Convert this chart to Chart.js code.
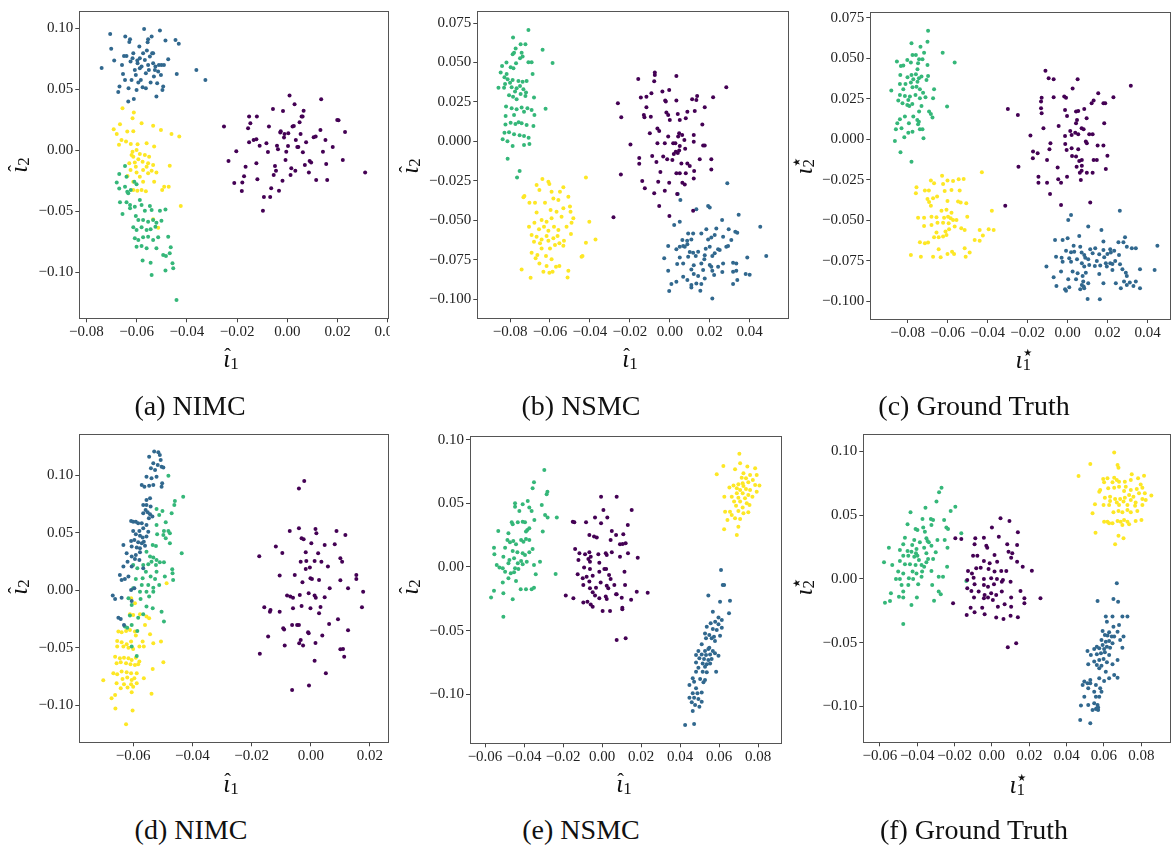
<!DOCTYPE html>
<html>
<head>
<meta charset="utf-8">
<script src="https://cdn.jsdelivr.net/npm/chart.js@4.4.1/dist/chart.umd.min.js"></script>
<style>
  body { margin: 0; background: #fff; width: 1172px; height: 846px; position: relative; overflow: hidden; }
  canvas { position: absolute; }
  .cap { position: absolute; font-family: 'Liberation Serif', serif; font-size: 28px; line-height: 1; white-space: nowrap; transform: translateX(-50%); color: #111; }
  .ax { position: absolute; font-family: 'Liberation Serif', serif; font-style: italic; font-size: 25px; line-height: 1; white-space: nowrap; color: #111; transform: translate(-50%, -50%); }
  .ax.y { transform: translate(-50%, -50%) rotate(-90deg); }
  .io { position: relative; display: inline-block; }
  .hat { position: absolute; left: 1px; top: 0px; font-style: normal; font-size: 20px; }
  .sb { font-style: normal; font-size: 17px; position: relative; top: 2px; }
  .ss { display: inline-block; position: relative; width: 10px; height: 1px; }
  .ss .up { position: absolute; left: -1px; bottom: 6px; font-style: normal; font-size: 20px; line-height: 1; font-family: 'DejaVu Sans', sans-serif; }
  .ss .dn { position: absolute; left: 0; bottom: -5px; font-style: normal; font-size: 17px; line-height: 1; }
</style>
</head>
<body>
<canvas id="pa"></canvas>
<canvas id="pb"></canvas>
<canvas id="pc"></canvas>
<canvas id="pd"></canvas>
<canvas id="pe"></canvas>
<canvas id="pf"></canvas>

<div class="ax" style="left:231px;top:358px"><span class="io">ι<span class="hat">ˆ</span></span><span class="sb">1</span></div>
<div class="ax y" style="left:18px;top:165px"><span class="io">ι<span class="hat">ˆ</span></span><span class="sb">2</span></div>
<div class="ax" style="left:630px;top:358px"><span class="io">ι<span class="hat">ˆ</span></span><span class="sb">1</span></div>
<div class="ax y" style="left:409px;top:166px"><span class="io">ι<span class="hat">ˆ</span></span><span class="sb">2</span></div>
<div class="ax" style="left:1024px;top:359px"><span class="io">ι</span><span class="ss"><span class="up">⋆</span><span class="dn">1</span></span></div>
<div class="ax y" style="left:803px;top:166px"><span class="io">ι</span><span class="ss"><span class="up">⋆</span><span class="dn">2</span></span></div>

<div class="ax" style="left:231px;top:783px"><span class="io">ι<span class="hat">ˆ</span></span><span class="sb">1</span></div>
<div class="ax y" style="left:18px;top:587px"><span class="io">ι<span class="hat">ˆ</span></span><span class="sb">2</span></div>
<div class="ax" style="left:624px;top:783px"><span class="io">ι<span class="hat">ˆ</span></span><span class="sb">1</span></div>
<div class="ax y" style="left:409px;top:587px"><span class="io">ι<span class="hat">ˆ</span></span><span class="sb">2</span></div>
<div class="ax" style="left:1018px;top:784px"><span class="io">ι</span><span class="ss"><span class="up">⋆</span><span class="dn">1</span></span></div>
<div class="ax y" style="left:803px;top:587px"><span class="io">ι</span><span class="ss"><span class="up">⋆</span><span class="dn">2</span></span></div>

<div class="cap" style="left:190px;top:392px">(a) NIMC</div>
<div class="cap" style="left:581px;top:392px">(b) NSMC</div>
<div class="cap" style="left:974px;top:392px">(c) Ground Truth</div>
<div class="cap" style="left:191px;top:816px">(d) NIMC</div>
<div class="cap" style="left:581px;top:816px">(e) NSMC</div>
<div class="cap" style="left:974px;top:816px">(f) Ground Truth</div>

<script>
// cluster colours (viridis, 4 classes)
var viridis = ['#440154', '#31688e', '#35b779', '#fde725'];

// tick values
var ticksX_a = [-0.08, -0.06, -0.04, -0.02, 0.00, 0.02, 0.04];
var ticksY_a = [-0.10, -0.05, 0.00, 0.05, 0.10];
var ticksX_b = [-0.08, -0.06, -0.04, -0.02, 0.00, 0.02, 0.04];
var ticksY_b = [-0.100, -0.075, -0.050, -0.025, 0.000, 0.025, 0.050, 0.075];
var ticksX_d = [-0.06, -0.04, -0.02, 0.00, 0.02];
var ticksY_d = [-0.10, -0.05, 0.00, 0.05, 0.10];
var ticksX_e = [-0.06, -0.04, -0.02, 0.00, 0.02, 0.04, 0.06, 0.08];
var ticksY_e = [-0.10, -0.05, 0.00, 0.05, 0.10];

// (a) NIMC
var aPurple = [[-0.0252,0.0194],[-0.0234,-0.0087],[-0.0211,-0.0268],[-0.0203,-0.0008],[-0.0181,-0.0333],[-0.0179,-0.0265],[-0.0166,-0.0134],[-0.0156,0.0180],[-0.0152,0.0066],[-0.0147,0.0221],[-0.0152,0.0276],[-0.0134,0.0085],[-0.0123,-0.0107],[-0.0121,0.0276],[-0.0119,-0.0238],[-0.0123,0.0090],[-0.0110,0.0038],[-0.0093,-0.0383],[-0.0083,0.0057],[-0.0077,-0.0014],[-0.0073,0.0194],[-0.0068,-0.0383],[-0.0064,-0.0311],[-0.0057,0.0339],[-0.0054,-0.0202],[-0.0049,-0.0128],[-0.0045,-0.0167],[-0.0041,0.0038],[-0.0037,0.0008],[-0.0033,-0.0331],[-0.0028,0.0145],[-0.0026,0.0156],[-0.0019,-0.0249],[-0.0017,0.0322],[-0.0013,0.0104],[-0.0011,0.0134],[-0.0007,-0.0079],[-0.0004,-0.0011],[0.0003,0.0036],[0.0004,0.0139],[0.0009,0.0448],[0.0013,-0.0202],[0.0016,-0.0148],[0.0021,0.0194],[0.0026,0.0199],[0.0029,0.0377],[0.0032,-0.0167],[0.0034,0.0085],[0.0040,0.0027],[0.0044,0.0027],[0.0049,0.0230],[0.0053,0.0134],[0.0057,0.0276],[0.0061,0.0276],[0.0065,0.0325],[0.0062,-0.0016],[0.0070,-0.0120],[0.0075,0.0066],[0.0086,-0.0183],[0.0089,-0.0087],[0.0095,-0.0101],[0.0105,0.0107],[0.0113,0.0112],[0.0115,-0.0243],[0.0132,0.0167],[0.0135,0.0418],[0.0142,-0.0011],[0.0152,0.0085],[0.0155,-0.0112],[0.0159,-0.0243],[0.0181,0.0027],[0.0199,0.0249],[0.0204,0.0246],[0.0221,-0.0079],[0.0230,0.0150],[0.0310,-0.0183],[-0.0097,-0.0495],[-0.0172,-0.0213]];
var aBlue = [[-0.0739,0.0675],[-0.0705,0.0954],[-0.0701,0.0833],[-0.0689,0.0735],[-0.0673,0.0478],[-0.0668,0.0522],[-0.0658,0.0699],[-0.0654,0.0626],[-0.0650,0.0773],[-0.0645,0.0932],[-0.0640,0.0773],[-0.0633,0.0399],[-0.0632,0.0508],[-0.0629,0.0888],[-0.0626,0.0910],[-0.0624,0.0727],[-0.0613,0.0795],[-0.0611,0.0421],[-0.0607,0.0658],[-0.0600,0.0495],[-0.0596,0.0713],[-0.0593,0.0555],[-0.0589,0.0850],[-0.0587,0.0754],[-0.0583,0.0577],[-0.0580,0.0686],[-0.0576,0.0516],[-0.0574,0.0795],[-0.0570,0.0995],[-0.0567,0.0740],[-0.0563,0.0631],[-0.0559,0.0817],[-0.0556,0.0885],[-0.0554,0.0910],[-0.0551,0.0658],[-0.0547,0.0768],[-0.0544,0.0555],[-0.0540,0.0932],[-0.0538,0.0795],[-0.0534,0.0713],[-0.0531,0.0604],[-0.0527,0.0658],[-0.0525,0.0686],[-0.0521,0.0440],[-0.0518,0.0549],[-0.0514,0.0645],[-0.0511,0.0699],[-0.0507,0.0981],[-0.0503,0.0617],[-0.0501,0.0699],[-0.0497,0.0495],[-0.0494,0.0522],[-0.0491,0.0699],[-0.0485,0.0899],[-0.0474,0.0746],[-0.0445,0.0904],[-0.0440,0.0626],[-0.0432,0.0874],[-0.0362,0.0658],[-0.0326,0.0577],[-0.0646,0.0577],[-0.0620,0.0577],[-0.0603,0.0617],[-0.0563,0.0508],[-0.0587,0.0672],[-0.0616,0.0754],[-0.0597,0.0735],[-0.0554,0.0699],[-0.0534,0.0795]];
var aGreen = [[-0.0646,-0.0128],[-0.0669,-0.0194],[-0.0679,-0.0265],[-0.0640,-0.0216],[-0.0669,-0.0314],[-0.0637,-0.0339],[-0.0633,-0.0352],[-0.0609,-0.0257],[-0.0600,-0.0279],[-0.0623,-0.0325],[-0.0666,-0.0426],[-0.0640,-0.0426],[-0.0656,-0.0522],[-0.0626,-0.0475],[-0.0607,-0.0462],[-0.0587,-0.0407],[-0.0580,-0.0448],[-0.0567,-0.0495],[-0.0547,-0.0456],[-0.0540,-0.0489],[-0.0507,-0.0495],[-0.0485,-0.0486],[-0.0603,-0.0538],[-0.0593,-0.0571],[-0.0574,-0.0571],[-0.0554,-0.0585],[-0.0534,-0.0571],[-0.0521,-0.0593],[-0.0501,-0.0577],[-0.0613,-0.0631],[-0.0600,-0.0653],[-0.0580,-0.0631],[-0.0560,-0.0653],[-0.0544,-0.0648],[-0.0525,-0.0626],[-0.0607,-0.0721],[-0.0593,-0.0735],[-0.0574,-0.0713],[-0.0554,-0.0708],[-0.0534,-0.0735],[-0.0514,-0.0713],[-0.0474,-0.0708],[-0.0600,-0.0790],[-0.0580,-0.0784],[-0.0560,-0.0803],[-0.0521,-0.0803],[-0.0494,-0.0858],[-0.0483,-0.0866],[-0.0464,-0.0795],[-0.0468,-0.0844],[-0.0576,-0.0904],[-0.0544,-0.0921],[-0.0485,-0.0986],[-0.0540,-0.1022],[-0.0457,-0.0926],[-0.0454,-0.0967],[-0.0441,-0.1227],[-0.0626,-0.0448],[-0.0646,-0.0298]];
var aYellow = [[-0.0656,0.0344],[-0.0611,0.0309],[-0.0616,0.0262],[-0.0691,0.0172],[-0.0666,0.0213],[-0.0679,0.0134],[-0.0637,0.0153],[-0.0613,0.0156],[-0.0580,0.0221],[-0.0534,0.0202],[-0.0503,0.0167],[-0.0461,0.0134],[-0.0430,0.0112],[-0.0670,0.0046],[-0.0642,0.0071],[-0.0623,0.0052],[-0.0596,0.0049],[-0.0560,0.0057],[-0.0530,0.0030],[-0.0600,0.0003],[-0.0616,-0.0011],[-0.0587,-0.0030],[-0.0567,-0.0038],[-0.0613,-0.0052],[-0.0593,-0.0074],[-0.0550,-0.0052],[-0.0629,-0.0107],[-0.0607,-0.0101],[-0.0576,-0.0093],[-0.0554,-0.0107],[-0.0534,-0.0120],[-0.0468,-0.0126],[-0.0624,-0.0161],[-0.0600,-0.0183],[-0.0574,-0.0161],[-0.0540,-0.0167],[-0.0636,-0.0210],[-0.0587,-0.0216],[-0.0554,-0.0189],[-0.0521,-0.0183],[-0.0613,-0.0257],[-0.0574,-0.0257],[-0.0530,-0.0257],[-0.0490,-0.0298],[-0.0472,-0.0298],[-0.0613,-0.0325],[-0.0597,-0.0331],[-0.0580,-0.0325],[-0.0563,-0.0336],[-0.0498,-0.0325],[-0.0424,-0.0456],[-0.0534,-0.0566],[-0.0514,-0.0634],[-0.0660,0.0085],[-0.0620,-0.0038],[-0.0560,-0.0134],[-0.0603,-0.0134]];

// (b) NSMC
var bPurple = [[-0.0075,0.0436],[-0.0075,0.0421],[0.0033,0.0414],[-0.0158,0.0395],[-0.0078,0.0381],[0.0283,0.0342],[-0.0037,0.0315],[-0.0003,0.0326],[-0.0092,0.0304],[-0.0145,0.0277],[-0.0117,0.0283],[0.0137,0.0288],[0.0217,0.0279],[-0.0260,0.0241],[-0.0023,0.0258],[-0.0020,0.0252],[0.0033,0.0258],[0.0112,0.0266],[0.0133,0.0262],[-0.0117,0.0216],[0.0175,0.0216],[-0.0243,0.0152],[-0.0130,0.0167],[-0.0095,0.0156],[-0.0017,0.0182],[-0.0008,0.0167],[0.0040,0.0173],[0.0088,0.0188],[0.0125,0.0192],[0.0000,0.0135],[0.0050,0.0135],[-0.0127,0.0152],[0.0080,0.0146],[0.0163,0.0106],[-0.0062,0.0082],[-0.0053,0.0066],[-0.0100,0.0051],[-0.0008,0.0030],[0.0047,0.0051],[0.0062,0.0040],[0.0120,0.0040],[0.0042,0.0030],[-0.0197,-0.0021],[-0.0062,-0.0013],[-0.0025,-0.0013],[0.0017,-0.0013],[0.0028,-0.0013],[0.0050,-0.0030],[0.0073,0.0008],[0.0120,-0.0002],[0.0167,-0.0027],[0.0175,-0.0027],[0.0030,-0.0066],[0.0040,-0.0074],[0.0020,-0.0080],[0.0047,-0.0059],[0.0077,-0.0047],[-0.0088,-0.0093],[-0.0153,-0.0106],[-0.0033,-0.0097],[-0.0013,-0.0114],[0.0013,-0.0118],[-0.0067,-0.0131],[-0.0153,-0.0142],[0.0058,-0.0140],[0.0088,-0.0140],[0.0100,-0.0156],[0.0150,-0.0114],[0.0208,-0.0114],[-0.0245,-0.0211],[-0.0047,-0.0195],[0.0033,-0.0203],[0.0050,-0.0203],[0.0080,-0.0203],[0.0122,-0.0188],[0.0208,-0.0178],[-0.0138,-0.0252],[-0.0058,-0.0256],[-0.0003,-0.0262],[0.0063,-0.0262],[0.0075,-0.0273],[0.0120,-0.0235],[-0.0125,-0.0298],[-0.0025,-0.0313],[-0.0078,-0.0330],[0.0037,-0.0334],[-0.0053,-0.0410],[0.0117,-0.0440],[-0.0002,-0.0474],[-0.0282,-0.0482]];
var bBlue = [[0.0288,-0.0266],[0.0040,-0.0334],[0.0053,-0.0372],[0.0133,-0.0431],[0.0192,-0.0410],[0.0200,-0.0419],[0.0345,-0.0465],[0.0262,-0.0499],[0.0050,-0.0510],[0.0022,-0.0531],[0.0183,-0.0558],[0.0233,-0.0552],[0.0295,-0.0558],[0.0328,-0.0573],[0.0338,-0.0579],[0.0092,-0.0584],[0.0117,-0.0584],[0.0158,-0.0584],[0.0108,-0.0622],[0.0063,-0.0626],[0.0087,-0.0630],[0.0192,-0.0622],[0.0208,-0.0609],[0.0225,-0.0594],[0.0267,-0.0605],[0.0308,-0.0626],[0.0453,-0.0541],[-0.0008,-0.0664],[0.0033,-0.0685],[0.0050,-0.0668],[0.0067,-0.0664],[0.0075,-0.0668],[0.0088,-0.0653],[0.0180,-0.0681],[0.0200,-0.0668],[0.0242,-0.0685],[0.0283,-0.0668],[0.0292,-0.0664],[0.0100,-0.0702],[0.0117,-0.0706],[0.0142,-0.0700],[0.0175,-0.0723],[0.0225,-0.0710],[0.0250,-0.0689],[0.0050,-0.0736],[0.0092,-0.0732],[0.0130,-0.0727],[0.0173,-0.0748],[0.0213,-0.0727],[0.0483,-0.0727],[-0.0028,-0.0742],[0.0037,-0.0778],[0.0067,-0.0774],[0.0120,-0.0786],[0.0158,-0.0774],[0.0200,-0.0784],[0.0208,-0.0795],[0.0242,-0.0795],[0.0267,-0.0774],[0.0317,-0.0770],[0.0333,-0.0774],[0.0388,-0.0736],[-0.0008,-0.0820],[0.0108,-0.0812],[0.0167,-0.0816],[0.0213,-0.0820],[0.0263,-0.0829],[0.0317,-0.0827],[0.0333,-0.0820],[0.0380,-0.0841],[0.0400,-0.0846],[0.0067,-0.0858],[0.0120,-0.0841],[0.0142,-0.0854],[0.0175,-0.0869],[0.0222,-0.0848],[0.0088,-0.0879],[0.0033,-0.0890],[0.0108,-0.0911],[0.0133,-0.0901],[0.0158,-0.0905],[0.0338,-0.0879],[0.0317,-0.0905],[0.0008,-0.0905],[0.0108,-0.0926],[0.0153,-0.0947],[-0.0003,-0.0949],[0.0213,-0.0996]];
var bGreen = [[-0.0708,0.0706],[-0.0785,0.0658],[-0.0747,0.0615],[-0.0723,0.0615],[-0.0772,0.0588],[-0.0637,0.0581],[-0.0780,0.0562],[-0.0742,0.0562],[-0.0787,0.0552],[-0.0737,0.0537],[-0.0750,0.0526],[-0.0818,0.0499],[-0.0770,0.0495],[-0.0708,0.0501],[-0.0692,0.0501],[-0.0587,0.0497],[-0.0840,0.0478],[-0.0797,0.0469],[-0.0783,0.0463],[-0.0847,0.0436],[-0.0817,0.0427],[-0.0687,0.0427],[-0.0828,0.0406],[-0.0812,0.0393],[-0.0787,0.0389],[-0.0758,0.0383],[-0.0737,0.0378],[-0.0717,0.0383],[-0.0800,0.0372],[-0.0825,0.0364],[-0.0750,0.0351],[-0.0792,0.0342],[-0.0767,0.0336],[-0.0733,0.0330],[-0.0720,0.0309],[-0.0858,0.0340],[-0.0830,0.0340],[-0.0775,0.0315],[-0.0747,0.0300],[-0.0805,0.0292],[-0.0785,0.0283],[-0.0767,0.0266],[-0.0723,0.0288],[-0.0680,0.0277],[-0.0820,0.0220],[-0.0792,0.0209],[-0.0767,0.0203],[-0.0742,0.0214],[-0.0713,0.0209],[-0.0692,0.0199],[-0.0622,0.0207],[-0.0730,0.0188],[-0.0678,0.0167],[-0.0822,0.0161],[-0.0780,0.0167],[-0.0757,0.0121],[-0.0823,0.0106],[-0.0797,0.0118],[-0.0773,0.0110],[-0.0742,0.0114],[-0.0717,0.0104],[-0.0683,0.0097],[-0.0828,0.0055],[-0.0805,0.0057],[-0.0780,0.0044],[-0.0752,0.0038],[-0.0730,0.0034],[-0.0707,0.0023],[-0.0837,0.0013],[-0.0813,0.0000],[-0.0787,-0.0030],[-0.0730,-0.0023],[-0.0703,-0.0017],[-0.0812,-0.0110],[-0.0752,-0.0188],[-0.0765,-0.0230]];
var bYellow = [[-0.0667,-0.0277],[-0.0638,-0.0239],[-0.0608,-0.0256],[-0.0603,-0.0271],[-0.0533,-0.0292],[-0.0420,-0.0230],[-0.0653,-0.0309],[-0.0592,-0.0319],[-0.0550,-0.0319],[-0.0728,-0.0347],[-0.0733,-0.0355],[-0.0675,-0.0389],[-0.0625,-0.0389],[-0.0583,-0.0362],[-0.0558,-0.0372],[-0.0508,-0.0351],[-0.0703,-0.0389],[-0.0667,-0.0452],[-0.0597,-0.0436],[-0.0567,-0.0446],[-0.0533,-0.0425],[-0.0500,-0.0414],[-0.0497,-0.0446],[-0.0642,-0.0499],[-0.0617,-0.0510],[-0.0592,-0.0488],[-0.0542,-0.0478],[-0.0483,-0.0488],[-0.0403,-0.0510],[-0.0705,-0.0541],[-0.0678,-0.0516],[-0.0655,-0.0558],[-0.0630,-0.0541],[-0.0608,-0.0567],[-0.0580,-0.0541],[-0.0558,-0.0562],[-0.0517,-0.0541],[-0.0492,-0.0516],[-0.0692,-0.0594],[-0.0667,-0.0605],[-0.0642,-0.0622],[-0.0617,-0.0600],[-0.0583,-0.0615],[-0.0562,-0.0600],[-0.0530,-0.0630],[-0.0495,-0.0588],[-0.0680,-0.0636],[-0.0650,-0.0647],[-0.0608,-0.0630],[-0.0553,-0.0647],[-0.0420,-0.0643],[-0.0372,-0.0622],[-0.0642,-0.0679],[-0.0600,-0.0679],[-0.0575,-0.0658],[-0.0533,-0.0662],[-0.0692,-0.0706],[-0.0663,-0.0721],[-0.0620,-0.0727],[-0.0672,-0.0742],[-0.0592,-0.0748],[-0.0442,-0.0732],[-0.0437,-0.0727],[-0.0742,-0.0812],[-0.0653,-0.0774],[-0.0617,-0.0791],[-0.0570,-0.0795],[-0.0553,-0.0791],[-0.0508,-0.0820],[-0.0633,-0.0827],[-0.0603,-0.0833],[-0.0587,-0.0827],[-0.0512,-0.0863],[-0.0697,-0.0865]];

// (c) Ground Truth, first set
var cPurple = [[-0.0111,0.0424],[-0.0095,0.0377],[-0.0070,0.0371],[0.0050,0.0371],[0.0316,0.0331],[0.0025,0.0313],[0.0153,0.0284],[0.0229,0.0259],[-0.0130,0.0257],[-0.0070,0.0259],[-0.0017,0.0264],[-0.0008,0.0257],[0.0130,0.0239],[0.0179,0.0222],[0.0188,0.0222],[-0.0133,0.0233],[0.0120,0.0222],[-0.0299,0.0187],[-0.0133,0.0191],[-0.0013,0.0181],[0.0042,0.0171],[0.0053,0.0175],[0.0083,0.0187],[-0.0249,0.0150],[-0.0130,0.0161],[-0.0003,0.0144],[0.0095,0.0130],[0.0047,0.0119],[0.0042,0.0099],[0.0183,0.0099],[-0.0121,0.0068],[-0.0045,0.0082],[0.0070,0.0068],[0.0080,0.0062],[0.0013,0.0051],[-0.0013,0.0021],[0.0038,0.0041],[0.0053,0.0031],[0.0108,0.0031],[0.0125,0.0031],[-0.0186,0.0023],[0.0020,0.0027],[-0.0086,-0.0025],[-0.0012,-0.0029],[0.0091,-0.0014],[0.0096,-0.0025],[0.0150,-0.0039],[0.0179,-0.0039],[-0.0005,-0.0066],[0.0020,-0.0056],[0.0053,-0.0062],[-0.0091,-0.0062],[-0.0173,-0.0076],[-0.0150,-0.0086],[-0.0174,-0.0117],[0.0022,-0.0103],[0.0042,-0.0107],[0.0071,-0.0128],[0.0130,-0.0128],[0.0146,-0.0128],[0.0199,-0.0101],[0.0058,-0.0134],[-0.0103,-0.0128],[-0.0050,-0.0175],[0.0045,-0.0169],[0.0191,-0.0183],[-0.0246,-0.0169],[0.0071,-0.0163],[0.0070,-0.0194],[0.0061,-0.0206],[0.0096,-0.0206],[0.0125,-0.0206],[-0.0146,-0.0231],[-0.0003,-0.0231],[-0.0047,-0.0247],[-0.0146,-0.0268],[-0.0103,-0.0268],[-0.0033,-0.0268],[0.0066,-0.0251],[-0.0088,-0.0338],[-0.0033,-0.0406],[0.0113,-0.0391],[-0.0312,-0.0410]];
var cBlue = [[0.0261,-0.0441],[0.0017,-0.0467],[0.0003,-0.0498],[0.0103,-0.0539],[0.0169,-0.0560],[0.0287,-0.0605],[0.0341,-0.0673],[0.0449,-0.0657],[-0.0063,-0.0622],[-0.0025,-0.0622],[0.0000,-0.0611],[0.0058,-0.0597],[0.0030,-0.0657],[0.0063,-0.0663],[0.0113,-0.0679],[0.0138,-0.0673],[0.0179,-0.0632],[0.0213,-0.0679],[0.0233,-0.0688],[0.0254,-0.0636],[0.0279,-0.0636],[0.0296,-0.0663],[0.0321,-0.0673],[-0.0008,-0.0688],[0.0017,-0.0698],[0.0033,-0.0694],[0.0070,-0.0700],[0.0083,-0.0714],[0.0125,-0.0704],[0.0158,-0.0710],[0.0179,-0.0684],[0.0199,-0.0708],[0.0216,-0.0700],[0.0257,-0.0714],[-0.0058,-0.0725],[-0.0030,-0.0731],[0.0008,-0.0735],[0.0047,-0.0741],[0.0088,-0.0731],[0.0103,-0.0741],[0.0146,-0.0751],[0.0183,-0.0729],[0.0191,-0.0766],[0.0213,-0.0766],[0.0238,-0.0751],[0.0262,-0.0772],[-0.0106,-0.0786],[-0.0025,-0.0756],[0.0017,-0.0756],[0.0071,-0.0766],[0.0083,-0.0786],[0.0108,-0.0776],[0.0136,-0.0782],[0.0163,-0.0780],[0.0196,-0.0786],[0.0224,-0.0770],[0.0274,-0.0803],[0.0362,-0.0803],[0.0435,-0.0807],[-0.0033,-0.0817],[0.0025,-0.0817],[0.0050,-0.0828],[0.0075,-0.0844],[0.0091,-0.0824],[0.0158,-0.0832],[0.0224,-0.0807],[0.0291,-0.0824],[0.0296,-0.0844],[-0.0070,-0.0852],[0.0003,-0.0865],[0.0042,-0.0865],[0.0078,-0.0879],[0.0103,-0.0889],[0.0179,-0.0889],[0.0241,-0.0889],[0.0282,-0.0879],[0.0311,-0.0885],[0.0341,-0.0879],[0.0329,-0.0906],[0.0071,-0.0900],[0.0080,-0.0910],[-0.0056,-0.0906],[-0.0013,-0.0926],[0.0008,-0.0914],[0.0063,-0.0926],[0.0083,-0.0920],[0.0266,-0.0920],[0.0296,-0.0900],[0.0362,-0.0920],[-0.0008,-0.0935],[0.0100,-0.0986],[0.0161,-0.0988]];
var cGreen = [[-0.0698,0.0671],[-0.0701,0.0603],[-0.0781,0.0593],[-0.0736,0.0572],[-0.0718,0.0535],[-0.0625,0.0535],[-0.0776,0.0521],[-0.0759,0.0521],[-0.0743,0.0494],[-0.0726,0.0494],[-0.0565,0.0474],[-0.0854,0.0480],[-0.0802,0.0490],[-0.0784,0.0474],[-0.0748,0.0469],[-0.0834,0.0453],[-0.0822,0.0455],[-0.0701,0.0459],[-0.0751,0.0432],[-0.0837,0.0397],[-0.0781,0.0397],[-0.0759,0.0401],[-0.0731,0.0387],[-0.0698,0.0391],[-0.0801,0.0383],[-0.0772,0.0371],[-0.0744,0.0377],[-0.0706,0.0366],[-0.0839,0.0342],[-0.0811,0.0342],[-0.0784,0.0350],[-0.0751,0.0356],[-0.0776,0.0321],[-0.0756,0.0325],[-0.0739,0.0309],[-0.0668,0.0309],[-0.0822,0.0309],[-0.0723,0.0288],[-0.0882,0.0301],[-0.0839,0.0274],[-0.0814,0.0268],[-0.0789,0.0264],[-0.0761,0.0274],[-0.0797,0.0243],[-0.0847,0.0239],[-0.0826,0.0222],[-0.0802,0.0212],[-0.0777,0.0218],[-0.0739,0.0253],[-0.0711,0.0259],[-0.0673,0.0253],[-0.0603,0.0202],[-0.0792,0.0206],[-0.0731,0.0206],[-0.0743,0.0171],[-0.0693,0.0171],[-0.0684,0.0156],[-0.0839,0.0124],[-0.0814,0.0140],[-0.0772,0.0140],[-0.0676,0.0134],[-0.0752,0.0119],[-0.0744,0.0109],[-0.0852,0.0099],[-0.0794,0.0099],[-0.0748,0.0093],[-0.0831,0.0068],[-0.0859,0.0062],[-0.0726,0.0062],[-0.0797,0.0041],[-0.0776,0.0047],[-0.0739,0.0062],[-0.0817,0.0012],[-0.0721,0.0006],[-0.0864,-0.0010],[-0.0836,-0.0080],[-0.0781,-0.0138]];
var cYellow = [[-0.0429,-0.0204],[-0.0628,-0.0226],[-0.0601,-0.0255],[-0.0573,-0.0257],[-0.0545,-0.0247],[-0.0520,-0.0245],[-0.0684,-0.0255],[-0.0668,-0.0272],[-0.0623,-0.0276],[-0.0756,-0.0296],[-0.0714,-0.0317],[-0.0694,-0.0317],[-0.0615,-0.0319],[-0.0581,-0.0313],[-0.0540,-0.0317],[-0.0759,-0.0334],[-0.0653,-0.0354],[-0.0701,-0.0369],[-0.0673,-0.0364],[-0.0548,-0.0385],[-0.0535,-0.0391],[-0.0693,-0.0387],[-0.0601,-0.0381],[-0.0684,-0.0410],[-0.0507,-0.0395],[-0.0631,-0.0441],[-0.0606,-0.0436],[-0.0581,-0.0453],[-0.0379,-0.0441],[-0.0748,-0.0484],[-0.0718,-0.0484],[-0.0681,-0.0478],[-0.0656,-0.0482],[-0.0618,-0.0484],[-0.0598,-0.0478],[-0.0585,-0.0488],[-0.0573,-0.0498],[-0.0556,-0.0498],[-0.0502,-0.0478],[-0.0718,-0.0535],[-0.0681,-0.0529],[-0.0651,-0.0515],[-0.0623,-0.0515],[-0.0595,-0.0519],[-0.0565,-0.0539],[-0.0532,-0.0550],[-0.0515,-0.0560],[-0.0593,-0.0556],[-0.0656,-0.0576],[-0.0611,-0.0570],[-0.0668,-0.0605],[-0.0645,-0.0605],[-0.0623,-0.0601],[-0.0606,-0.0591],[-0.0440,-0.0560],[-0.0395,-0.0556],[-0.0370,-0.0560],[-0.0739,-0.0636],[-0.0714,-0.0642],[-0.0698,-0.0638],[-0.0465,-0.0622],[-0.0440,-0.0626],[-0.0424,-0.0595],[-0.0645,-0.0679],[-0.0515,-0.0673],[-0.0578,-0.0694],[-0.0568,-0.0708],[-0.0784,-0.0714],[-0.0734,-0.0725],[-0.0673,-0.0725],[-0.0635,-0.0729],[-0.0601,-0.0708],[-0.0510,-0.0725],[-0.0490,-0.0700]];

// (d) NIMC
var dPurple = [[-0.0022,0.0951],[-0.0040,0.0884],[-0.0071,0.0516],[-0.0040,0.0539],[0.0016,0.0533],[0.0019,0.0496],[0.0087,0.0516],[0.0117,0.0481],[-0.0031,0.0452],[-0.0024,0.0443],[0.0002,0.0409],[0.0047,0.0394],[0.0081,0.0400],[-0.0118,0.0380],[-0.0096,0.0325],[-0.0017,0.0330],[-0.0034,0.0249],[-0.0015,0.0255],[0.0013,0.0255],[0.0036,0.0249],[0.0025,0.0322],[0.0100,0.0278],[0.0106,0.0249],[-0.0174,0.0296],[-0.0003,0.0197],[-0.0017,0.0186],[0.0058,0.0206],[-0.0105,0.0128],[-0.0054,0.0133],[-0.0001,0.0104],[0.0004,0.0099],[0.0028,0.0090],[0.0154,0.0133],[0.0154,0.0099],[0.0100,0.0087],[-0.0028,0.0070],[0.0064,0.0017],[0.0126,0.0017],[-0.0080,-0.0046],[-0.0069,-0.0055],[-0.0060,-0.0064],[-0.0037,-0.0041],[-0.0007,-0.0026],[0.0013,-0.0046],[0.0017,-0.0064],[0.0047,-0.0061],[0.0177,-0.0012],[-0.0157,-0.0148],[-0.0136,-0.0171],[-0.0138,-0.0186],[-0.0105,-0.0186],[-0.0060,-0.0157],[-0.0031,-0.0136],[-0.0001,-0.0157],[0.0033,-0.0145],[0.0173,-0.0148],[0.0028,-0.0200],[0.0062,-0.0293],[0.0092,-0.0252],[-0.0046,-0.0301],[-0.0040,-0.0301],[-0.0093,-0.0330],[-0.0090,-0.0342],[-0.0009,-0.0365],[-0.0007,-0.0374],[-0.0144,-0.0403],[0.0039,-0.0394],[0.0126,-0.0348],[-0.0063,-0.0301],[-0.0034,-0.0432],[-0.0039,-0.0461],[-0.0026,-0.0481],[0.0016,-0.0458],[0.0100,-0.0513],[0.0109,-0.0510],[0.0113,-0.0577],[-0.0088,-0.0481],[-0.0172,-0.0551],[0.0013,-0.0612],[0.0051,-0.0722],[-0.0063,-0.0867],[-0.0006,-0.0829]];
var dBlue = [[-0.0529,0.1206],[-0.0515,0.1200],[-0.0546,0.1162],[-0.0510,0.1177],[-0.0507,0.1133],[-0.0532,0.1104],[-0.0517,0.1090],[-0.0504,0.1075],[-0.0498,0.1067],[-0.0540,0.1061],[-0.0526,0.1046],[-0.0555,0.0988],[-0.0538,0.0974],[-0.0521,0.0988],[-0.0571,0.0916],[-0.0562,0.0901],[-0.0546,0.0910],[-0.0532,0.0916],[-0.0502,0.0930],[-0.0504,0.0901],[-0.0555,0.0786],[-0.0543,0.0800],[-0.0566,0.0742],[-0.0555,0.0742],[-0.0541,0.0728],[-0.0558,0.0699],[-0.0551,0.0678],[-0.0543,0.0661],[-0.0566,0.0670],[-0.0535,0.0641],[-0.0547,0.0626],[-0.0607,0.0603],[-0.0600,0.0597],[-0.0591,0.0597],[-0.0583,0.0583],[-0.0571,0.0583],[-0.0555,0.0568],[-0.0566,0.0539],[-0.0579,0.0516],[-0.0549,0.0510],[-0.0600,0.0516],[-0.0591,0.0487],[-0.0577,0.0475],[-0.0568,0.0458],[-0.0555,0.0467],[-0.0607,0.0429],[-0.0596,0.0438],[-0.0583,0.0417],[-0.0571,0.0409],[-0.0564,0.0423],[-0.0633,0.0394],[-0.0605,0.0380],[-0.0588,0.0371],[-0.0577,0.0365],[-0.0560,0.0388],[-0.0622,0.0322],[-0.0605,0.0293],[-0.0591,0.0307],[-0.0577,0.0330],[-0.0594,0.0272],[-0.0579,0.0264],[-0.0619,0.0249],[-0.0633,0.0206],[-0.0605,0.0206],[-0.0566,0.0191],[-0.0616,0.0119],[-0.0645,0.0133],[-0.0639,0.0090],[-0.0628,0.0099],[-0.0669,-0.0046],[-0.0639,-0.0064],[-0.0661,-0.0075],[-0.0607,0.0003],[-0.0596,0.0017],[-0.0605,-0.0093],[-0.0650,-0.0238],[-0.0642,-0.0249],[-0.0631,-0.0301]];
var dGreen = [[-0.0481,0.0997],[-0.0431,0.0814],[-0.0459,0.0777],[-0.0461,0.0742],[-0.0521,0.0707],[-0.0501,0.0690],[-0.0470,0.0670],[-0.0512,0.0655],[-0.0490,0.0591],[-0.0521,0.0568],[-0.0496,0.0516],[-0.0481,0.0516],[-0.0476,0.0496],[-0.0519,0.0487],[-0.0498,0.0481],[-0.0490,0.0452],[-0.0476,0.0409],[-0.0436,0.0322],[-0.0534,0.0394],[-0.0523,0.0386],[-0.0555,0.0336],[-0.0543,0.0293],[-0.0532,0.0284],[-0.0521,0.0264],[-0.0510,0.0243],[-0.0538,0.0249],[-0.0549,0.0226],[-0.0566,0.0220],[-0.0523,0.0220],[-0.0496,0.0243],[-0.0600,0.0220],[-0.0586,0.0191],[-0.0557,0.0162],[-0.0521,0.0162],[-0.0468,0.0183],[-0.0467,0.0148],[-0.0465,0.0090],[-0.0493,0.0119],[-0.0591,0.0099],[-0.0568,0.0104],[-0.0541,0.0119],[-0.0526,0.0099],[-0.0571,0.0046],[-0.0549,0.0046],[-0.0532,0.0023],[-0.0512,0.0046],[-0.0577,-0.0012],[-0.0600,0.0017],[-0.0555,-0.0012],[-0.0532,-0.0012],[-0.0616,-0.0070],[-0.0575,-0.0075],[-0.0546,-0.0055],[-0.0555,-0.0142],[-0.0534,-0.0157],[-0.0504,-0.0186],[-0.0605,-0.0128],[-0.0566,-0.0209],[-0.0611,-0.0220],[-0.0496,-0.0272],[-0.0583,-0.0238],[-0.0628,-0.0316],[-0.0620,-0.0325],[-0.0605,-0.0301],[-0.0586,-0.0354],[-0.0605,-0.0490],[-0.0588,-0.0571]];
var dYellow = [[-0.0487,0.0061],[-0.0607,-0.0070],[-0.0594,-0.0113],[-0.0611,-0.0209],[-0.0600,-0.0214],[-0.0577,-0.0209],[-0.0555,-0.0229],[-0.0546,-0.0243],[-0.0650,-0.0359],[-0.0639,-0.0365],[-0.0624,-0.0354],[-0.0611,-0.0345],[-0.0594,-0.0359],[-0.0560,-0.0301],[-0.0654,-0.0441],[-0.0639,-0.0452],[-0.0622,-0.0470],[-0.0607,-0.0446],[-0.0591,-0.0394],[-0.0568,-0.0446],[-0.0543,-0.0383],[-0.0532,-0.0461],[-0.0506,-0.0446],[-0.0654,-0.0490],[-0.0633,-0.0490],[-0.0616,-0.0499],[-0.0600,-0.0510],[-0.0579,-0.0490],[-0.0564,-0.0490],[-0.0661,-0.0577],[-0.0645,-0.0591],[-0.0631,-0.0586],[-0.0616,-0.0591],[-0.0605,-0.0606],[-0.0591,-0.0586],[-0.0579,-0.0620],[-0.0656,-0.0635],[-0.0642,-0.0626],[-0.0624,-0.0635],[-0.0609,-0.0643],[-0.0594,-0.0649],[-0.0583,-0.0643],[-0.0498,-0.0626],[-0.0534,-0.0684],[-0.0667,-0.0722],[-0.0654,-0.0730],[-0.0639,-0.0707],[-0.0622,-0.0713],[-0.0607,-0.0722],[-0.0588,-0.0722],[-0.0636,-0.0771],[-0.0620,-0.0759],[-0.0605,-0.0780],[-0.0596,-0.0765],[-0.0564,-0.0765],[-0.0701,-0.0783],[-0.0656,-0.0809],[-0.0631,-0.0817],[-0.0607,-0.0817],[-0.0588,-0.0809],[-0.0642,-0.0852],[-0.0619,-0.0846],[-0.0600,-0.0838],[-0.0661,-0.0910],[-0.0605,-0.0887],[-0.0538,-0.0899],[-0.0673,-0.0939],[-0.0660,-0.1029],[-0.0602,-0.1046],[-0.0624,-0.1165]];

// (e) NSMC
var ePurple = [[-0.0005,0.0553],[0.0075,0.0553],[0.0152,0.0448],[0.0007,0.0448],[-0.0150,0.0356],[-0.0142,0.0351],[-0.0082,0.0351],[-0.0036,0.0388],[0.0027,0.0388],[-0.0005,0.0343],[0.0132,0.0330],[0.0050,0.0283],[0.0072,0.0252],[0.0109,0.0257],[-0.0065,0.0252],[-0.0041,0.0239],[-0.0027,0.0231],[0.0044,0.0212],[0.0092,0.0178],[0.0106,0.0181],[0.0121,0.0186],[-0.0138,0.0142],[-0.0116,0.0107],[-0.0087,0.0100],[-0.0065,0.0115],[-0.0058,0.0081],[-0.0019,0.0100],[0.0019,0.0107],[0.0024,0.0094],[0.0050,0.0115],[0.0092,0.0081],[0.0133,0.0107],[0.0183,0.0073],[-0.0121,0.0055],[-0.0070,0.0063],[-0.0062,0.0042],[-0.0014,0.0034],[-0.0092,-0.0005],[-0.0062,-0.0016],[0.0012,-0.0016],[0.0021,-0.0016],[-0.0125,-0.0058],[-0.0099,-0.0089],[-0.0079,-0.0076],[-0.0048,-0.0068],[-0.0014,-0.0037],[0.0036,-0.0063],[0.0044,-0.0094],[0.0115,-0.0037],[-0.0065,-0.0115],[-0.0007,-0.0121],[-0.0096,-0.0142],[-0.0062,-0.0168],[-0.0031,-0.0163],[0.0024,-0.0147],[0.0032,-0.0168],[0.0063,-0.0142],[0.0118,-0.0142],[-0.0186,-0.0225],[-0.0147,-0.0246],[-0.0048,-0.0199],[-0.0036,-0.0225],[-0.0014,-0.0246],[0.0019,-0.0233],[0.0024,-0.0252],[0.0072,-0.0215],[0.0101,-0.0241],[0.0178,-0.0194],[0.0234,-0.0202],[0.0149,-0.0257],[-0.0096,-0.0280],[-0.0075,-0.0273],[-0.0048,-0.0312],[0.0003,-0.0346],[0.0041,-0.0346],[-0.0058,-0.0294],[0.0104,-0.0320],[0.0104,-0.0333],[0.0075,-0.0215],[0.0075,-0.0574],[0.0121,-0.0561]];
var eBlue = [[0.0610,-0.0024],[0.0619,-0.0142],[0.0626,-0.0142],[0.0545,-0.0225],[0.0605,-0.0273],[0.0656,-0.0265],[0.0568,-0.0351],[0.0651,-0.0364],[0.0597,-0.0398],[0.0614,-0.0417],[0.0580,-0.0430],[0.0557,-0.0443],[0.0597,-0.0451],[0.0537,-0.0469],[0.0614,-0.0477],[0.0568,-0.0488],[0.0588,-0.0495],[0.0528,-0.0522],[0.0550,-0.0535],[0.0574,-0.0548],[0.0605,-0.0540],[0.0562,-0.0561],[0.0533,-0.0561],[0.0579,-0.0582],[0.0511,-0.0608],[0.0550,-0.0634],[0.0494,-0.0661],[0.0528,-0.0661],[0.0545,-0.0645],[0.0568,-0.0661],[0.0482,-0.0692],[0.0511,-0.0687],[0.0533,-0.0692],[0.0554,-0.0687],[0.0579,-0.0679],[0.0597,-0.0697],[0.0499,-0.0718],[0.0523,-0.0723],[0.0545,-0.0731],[0.0562,-0.0723],[0.0482,-0.0750],[0.0516,-0.0758],[0.0537,-0.0765],[0.0554,-0.0758],[0.0494,-0.0792],[0.0528,-0.0784],[0.0585,-0.0823],[0.0482,-0.0823],[0.0516,-0.0823],[0.0537,-0.0828],[0.0465,-0.0875],[0.0503,-0.0881],[0.0528,-0.0889],[0.0472,-0.0902],[0.0520,-0.0907],[0.0448,-0.0928],[0.0482,-0.0954],[0.0465,-0.0993],[0.0489,-0.0993],[0.0511,-0.0986],[0.0448,-0.1028],[0.0472,-0.1028],[0.0494,-0.1038],[0.0460,-0.1064],[0.0511,-0.1059],[0.0477,-0.1085],[0.0499,-0.1098],[0.0465,-0.1132],[0.0426,-0.1242],[0.0472,-0.1235]];
var eGreen = [[-0.0296,0.0763],[-0.0349,0.0666],[-0.0356,0.0619],[-0.0280,0.0592],[-0.0284,0.0571],[-0.0381,0.0519],[-0.0446,0.0501],[-0.0407,0.0493],[-0.0309,0.0488],[-0.0446,0.0474],[-0.0424,0.0440],[-0.0373,0.0467],[-0.0361,0.0440],[-0.0292,0.0409],[-0.0279,0.0388],[-0.0232,0.0388],[-0.0463,0.0351],[-0.0432,0.0351],[-0.0407,0.0356],[-0.0395,0.0351],[-0.0347,0.0370],[-0.0458,0.0336],[-0.0373,0.0304],[-0.0383,0.0291],[-0.0390,0.0278],[-0.0304,0.0278],[-0.0532,0.0283],[-0.0480,0.0265],[-0.0485,0.0212],[-0.0455,0.0204],[-0.0415,0.0212],[-0.0403,0.0199],[-0.0390,0.0220],[-0.0373,0.0212],[-0.0472,0.0194],[-0.0441,0.0178],[-0.0356,0.0142],[-0.0554,0.0152],[-0.0497,0.0152],[-0.0458,0.0126],[-0.0434,0.0115],[-0.0407,0.0107],[-0.0395,0.0094],[-0.0373,0.0115],[-0.0552,0.0100],[-0.0506,0.0081],[-0.0475,0.0055],[-0.0451,0.0068],[-0.0415,0.0047],[-0.0480,0.0029],[-0.0432,0.0029],[-0.0540,0.0016],[-0.0526,-0.0005],[-0.0509,-0.0010],[-0.0407,0.0021],[-0.0386,0.0042],[-0.0318,0.0042],[-0.0349,0.0016],[-0.0446,-0.0010],[-0.0429,-0.0016],[-0.0497,-0.0037],[-0.0468,-0.0050],[-0.0451,-0.0042],[-0.0340,-0.0058],[-0.0238,-0.0055],[-0.0480,-0.0089],[-0.0441,-0.0110],[-0.0509,-0.0121],[-0.0417,-0.0176],[-0.0390,-0.0176],[-0.0361,-0.0176],[-0.0349,-0.0163],[-0.0554,-0.0186],[-0.0506,-0.0207],[-0.0458,-0.0254],[-0.0569,-0.0239],[-0.0506,-0.0391]];
var eYellow = [[0.0704,0.0891],[0.0708,0.0815],[0.0622,0.0794],[0.0682,0.0768],[0.0745,0.0789],[0.0785,0.0776],[0.0588,0.0729],[0.0725,0.0737],[0.0759,0.0723],[0.0793,0.0723],[0.0716,0.0702],[0.0738,0.0697],[0.0773,0.0684],[0.0750,0.0666],[0.0699,0.0650],[0.0721,0.0658],[0.0674,0.0640],[0.0691,0.0619],[0.0725,0.0637],[0.0785,0.0645],[0.0807,0.0640],[0.0653,0.0624],[0.0708,0.0606],[0.0738,0.0613],[0.0759,0.0606],[0.0793,0.0592],[0.0691,0.0579],[0.0721,0.0579],[0.0750,0.0566],[0.0627,0.0553],[0.0665,0.0553],[0.0699,0.0545],[0.0733,0.0540],[0.0771,0.0553],[0.0677,0.0514],[0.0708,0.0514],[0.0742,0.0501],[0.0687,0.0482],[0.0721,0.0467],[0.0756,0.0488],[0.0631,0.0435],[0.0656,0.0435],[0.0699,0.0440],[0.0725,0.0422],[0.0750,0.0430],[0.0665,0.0409],[0.0682,0.0383],[0.0708,0.0377],[0.0643,0.0370],[0.0699,0.0317],[0.0626,0.0296],[0.0691,0.0252]];

// (f) Ground Truth, second set
var fPurple = [[0.0046,0.0476],[0.0094,0.0455],[0.0000,0.0403],[0.0139,0.0366],[-0.0196,0.0319],[-0.0164,0.0314],[-0.0089,0.0319],[-0.0043,0.0324],[0.0037,0.0332],[-0.0093,0.0272],[-0.0030,0.0261],[-0.0025,0.0246],[0.0082,0.0272],[0.0135,0.0267],[-0.0101,0.0183],[-0.0078,0.0183],[0.0014,0.0188],[0.0109,0.0201],[0.0089,0.0214],[0.0103,0.0167],[-0.0043,0.0141],[-0.0012,0.0123],[0.0028,0.0136],[0.0135,0.0136],[-0.0084,0.0084],[-0.0060,0.0089],[-0.0018,0.0078],[0.0014,0.0058],[-0.0128,0.0063],[-0.0107,0.0044],[0.0050,0.0063],[0.0077,0.0063],[0.0165,0.0097],[0.0214,0.0065],[-0.0132,-0.0008],[-0.0098,0.0010],[-0.0043,0.0000],[-0.0004,0.0005],[0.0027,0.0000],[0.0059,-0.0008],[-0.0132,-0.0073],[-0.0093,-0.0042],[-0.0043,-0.0047],[-0.0021,-0.0060],[0.0011,-0.0042],[0.0053,-0.0021],[0.0100,-0.0021],[0.0153,-0.0094],[-0.0110,-0.0094],[-0.0071,-0.0099],[-0.0039,-0.0125],[-0.0004,-0.0112],[0.0023,-0.0125],[0.0053,-0.0099],[-0.0043,-0.0152],[-0.0021,-0.0146],[-0.0096,-0.0146],[0.0005,-0.0165],[0.0103,-0.0146],[0.0174,-0.0152],[0.0174,-0.0191],[0.0260,-0.0152],[-0.0208,-0.0191],[-0.0114,-0.0225],[-0.0052,-0.0225],[0.0032,-0.0217],[0.0068,-0.0199],[0.0103,-0.0217],[-0.0135,-0.0282],[-0.0093,-0.0261],[-0.0039,-0.0277],[0.0023,-0.0303],[0.0062,-0.0314],[0.0100,-0.0288],[0.0139,-0.0301],[0.0085,-0.0536],[0.0130,-0.0505]];
var fBlue = [[0.0669,-0.0034],[0.0566,-0.0173],[0.0651,-0.0157],[0.0676,-0.0178],[0.0610,-0.0295],[0.0646,-0.0295],[0.0699,-0.0295],[0.0726,-0.0295],[0.0616,-0.0335],[0.0681,-0.0361],[0.0651,-0.0374],[0.0593,-0.0408],[0.0628,-0.0418],[0.0673,-0.0413],[0.0605,-0.0439],[0.0619,-0.0444],[0.0642,-0.0452],[0.0655,-0.0452],[0.0705,-0.0452],[0.0587,-0.0478],[0.0610,-0.0492],[0.0628,-0.0486],[0.0687,-0.0478],[0.0593,-0.0518],[0.0562,-0.0531],[0.0616,-0.0531],[0.0646,-0.0505],[0.0512,-0.0565],[0.0548,-0.0549],[0.0575,-0.0544],[0.0601,-0.0549],[0.0633,-0.0539],[0.0699,-0.0539],[0.0530,-0.0596],[0.0562,-0.0591],[0.0584,-0.0583],[0.0605,-0.0575],[0.0628,-0.0596],[0.0548,-0.0648],[0.0575,-0.0635],[0.0598,-0.0627],[0.0616,-0.0654],[0.0673,-0.0635],[0.0516,-0.0669],[0.0562,-0.0675],[0.0587,-0.0680],[0.0646,-0.0669],[0.0495,-0.0805],[0.0512,-0.0818],[0.0527,-0.0792],[0.0575,-0.0779],[0.0601,-0.0800],[0.0628,-0.0779],[0.0673,-0.0774],[0.0486,-0.0831],[0.0516,-0.0858],[0.0557,-0.0831],[0.0580,-0.0858],[0.0587,-0.0884],[0.0548,-0.0884],[0.0495,-0.0923],[0.0557,-0.0923],[0.0575,-0.0923],[0.0477,-0.0993],[0.0516,-0.0988],[0.0548,-0.0975],[0.0566,-0.0988],[0.0539,-0.1027],[0.0557,-0.1020],[0.0569,-0.1027],[0.0569,-0.1009],[0.0473,-0.1106],[0.0527,-0.1132],[0.0562,-0.1014],[0.0527,-0.0818],[0.0575,-0.0701],[0.0610,-0.0727],[0.0655,-0.0753]];
var fGreen = [[-0.0270,0.0716],[-0.0283,0.0680],[-0.0297,0.0607],[-0.0196,0.0567],[-0.0356,0.0559],[-0.0436,0.0523],[-0.0221,0.0533],[-0.0372,0.0471],[-0.0327,0.0471],[-0.0315,0.0463],[-0.0256,0.0463],[-0.0368,0.0403],[-0.0244,0.0403],[-0.0452,0.0429],[-0.0409,0.0392],[-0.0399,0.0384],[-0.0324,0.0424],[-0.0235,0.0392],[-0.0359,0.0371],[-0.0164,0.0358],[-0.0351,0.0319],[-0.0345,0.0298],[-0.0466,0.0324],[-0.0416,0.0306],[-0.0386,0.0288],[-0.0338,0.0288],[-0.0292,0.0306],[-0.0253,0.0306],[-0.0475,0.0272],[-0.0427,0.0267],[-0.0404,0.0235],[-0.0363,0.0246],[-0.0324,0.0261],[-0.0552,0.0246],[-0.0493,0.0227],[-0.0452,0.0220],[-0.0431,0.0214],[-0.0407,0.0201],[-0.0399,0.0183],[-0.0351,0.0201],[-0.0301,0.0209],[-0.0238,0.0246],[-0.0475,0.0183],[-0.0448,0.0183],[-0.0416,0.0175],[-0.0391,0.0149],[-0.0342,0.0157],[-0.0351,0.0131],[-0.0315,0.0157],[-0.0578,0.0131],[-0.0534,0.0110],[-0.0493,0.0141],[-0.0466,0.0115],[-0.0439,0.0115],[-0.0377,0.0110],[-0.0409,0.0110],[-0.0363,0.0097],[-0.0324,0.0063],[-0.0240,0.0097],[-0.0502,0.0058],[-0.0475,0.0044],[-0.0425,0.0058],[-0.0404,0.0044],[-0.0374,0.0058],[-0.0514,0.0000],[-0.0493,0.0000],[-0.0445,0.0005],[-0.0422,0.0000],[-0.0377,0.0018],[-0.0285,0.0018],[-0.0262,0.0018],[-0.0137,-0.0016],[-0.0484,-0.0047],[-0.0448,-0.0047],[-0.0395,-0.0042],[-0.0320,-0.0047],[-0.0475,-0.0099],[-0.0541,-0.0112],[-0.0498,-0.0139],[-0.0475,-0.0146],[-0.0402,-0.0146],[-0.0285,-0.0099],[-0.0274,-0.0120],[-0.0310,-0.0170],[-0.0573,-0.0186],[-0.0546,-0.0173],[-0.0431,-0.0204],[-0.0475,-0.0353]];
var fYellow = [[0.0655,0.0993],[0.0527,0.0902],[0.0464,0.0808],[0.0673,0.0894],[0.0678,0.0873],[0.0596,0.0784],[0.0619,0.0790],[0.0655,0.0795],[0.0669,0.0776],[0.0749,0.0821],[0.0815,0.0810],[0.0601,0.0758],[0.0646,0.0758],[0.0681,0.0763],[0.0712,0.0763],[0.0744,0.0776],[0.0783,0.0790],[0.0797,0.0742],[0.0623,0.0711],[0.0655,0.0716],[0.0681,0.0724],[0.0717,0.0724],[0.0580,0.0698],[0.0708,0.0690],[0.0744,0.0698],[0.0776,0.0706],[0.0806,0.0716],[0.0854,0.0654],[0.0575,0.0685],[0.0605,0.0638],[0.0633,0.0646],[0.0660,0.0627],[0.0687,0.0627],[0.0712,0.0638],[0.0735,0.0659],[0.0758,0.0646],[0.0788,0.0672],[0.0819,0.0672],[0.0633,0.0612],[0.0669,0.0601],[0.0705,0.0607],[0.0744,0.0620],[0.0770,0.0601],[0.0806,0.0627],[0.0824,0.0620],[0.0552,0.0586],[0.0598,0.0580],[0.0628,0.0580],[0.0681,0.0580],[0.0726,0.0580],[0.0767,0.0575],[0.0806,0.0580],[0.0539,0.0515],[0.0651,0.0523],[0.0678,0.0533],[0.0699,0.0523],[0.0726,0.0541],[0.0779,0.0533],[0.0744,0.0523],[0.0619,0.0450],[0.0646,0.0437],[0.0673,0.0455],[0.0690,0.0450],[0.0708,0.0463],[0.0735,0.0429],[0.0770,0.0455],[0.0801,0.0463],[0.0628,0.0437],[0.0699,0.0424],[0.0726,0.0450],[0.0555,0.0363],[0.0678,0.0340],[0.0705,0.0319],[0.0660,0.0272],[0.0601,0.0450]];

Chart.defaults.font.family = "'Liberation Serif', serif";
Chart.defaults.color = '#222';

function fmt(v, d) {
  var s = Math.abs(v).toFixed(d);
  return (v < -1e-9 ? '\u2212' : '') + s;
}

// matplotlib style box round the plot area
var framePlugin = {
  id: 'frame',
  afterDraw: function(chart) {
    var a = chart.chartArea, c = chart.ctx;
    var l = Math.round(a.left), t = Math.round(a.top), r = Math.round(a.right), b = Math.round(a.bottom);
    c.save();
    c.strokeStyle = '#555';
    c.lineWidth = 1;
    c.strokeRect(l + 0.5, t + 0.5, r - l, b - t);
    c.restore();
  }
};

function axis(range, ticks, dec, horizontal) {
  return {
    type: 'linear',
    min: range[0],
    max: range[1],
    afterBuildTicks: function(s) { s.ticks = ticks.map(function(v) { return { value: v }; }); },
    afterFit: function(s) {
      if (horizontal) { s.height = 30; s.paddingLeft = 0; s.paddingRight = 0; }
      else { s.width = 60; s.paddingTop = 0; s.paddingBottom = 0; }
    },
    ticks: {
      callback: function(v) { return fmt(v, dec); },
      font: { size: 15 },
      color: '#222',
      padding: horizontal ? 1 : 2,
      autoSkip: false,
      maxRotation: 0,
      minRotation: 0
    },
    grid: { drawOnChartArea: false, drawTicks: true, tickLength: 4, color: '#444' },
    border: { display: false }
  };
}

function makePanel(id, box, xr, yr, xt, yt, xd, yd, groups) {
  var cv = document.getElementById(id);
  cv.width = box.w; cv.height = box.h;
  cv.style.left = box.left + 'px'; cv.style.top = box.top + 'px';
  new Chart(cv.getContext('2d'), {
    type: 'scatter',
    data: {
      datasets: groups.map(function(g, i) {
        return {
          data: g.map(function(p) { return { x: p[0], y: p[1] }; }),
          backgroundColor: viridis[i],
          borderWidth: 0,
          pointRadius: 2,
          pointHoverRadius: 2
        };
      })
    },
    options: {
      responsive: false,
      animation: false,
      devicePixelRatio: 1,
      layout: { padding: box.pad },
      plugins: { legend: { display: false }, tooltip: { enabled: false } },
      scales: { x: axis(xr, xt, xd, true), y: axis(yr, yt, yd, false) }
    },
    plugins: [framePlugin]
  });
}

window.onload = function() {
  makePanel('pa', { left: 0, top: 0, w: 390, h: 355, pad: { left: 19.3, top: 10.7, right: 1.5, bottom: 6.7 } },
    [-0.0828, 0.0401], [-0.1377, 0.1144], ticksX_a, ticksY_a, 2, 2, [aPurple, aBlue, aGreen, aYellow]);
  makePanel('pb', { left: 390, top: 0, w: 400, h: 355, pad: { left: 27.3, top: 10.7, right: 1.7, bottom: 6.7 } },
    [-0.0964, 0.0592], [-0.1122, 0.0828], ticksX_b, ticksY_b, 2, 3, [bPurple, bBlue, bGreen, bYellow]);
  makePanel('pc', { left: 790, top: 0, w: 382, h: 355, pad: { left: 20.3, top: 11.7, right: 1, bottom: 6 } },
    [-0.0987, 0.0512], [-0.1110, 0.0788], ticksX_b, ticksY_b, 2, 3, [cPurple, cBlue, cGreen, cYellow]);
  makePanel('pd', { left: 0, top: 425, w: 390, h: 355, pad: { left: 19.3, top: 9, right: 1.7, bottom: 7.7 } },
    [-0.0782, 0.0261], [-0.1322, 0.1359], ticksX_d, ticksY_d, 2, 2, [dPurple, dBlue, dGreen, dYellow]);
  makePanel('pe', { left: 390, top: 425, w: 400, h: 355, pad: { left: 20, top: 10.7, right: 9.3, bottom: 6.7 } },
    [-0.0677, 0.0916], [-0.1386, 0.1032], ticksX_e, ticksY_e, 2, 2, [ePurple, eBlue, eGreen, eYellow]);
  makePanel('pf', { left: 790, top: 425, w: 382, h: 355, pad: { left: 13.3, top: 9.3, right: 1, bottom: 7.7 } },
    [-0.0689, 0.0954], [-0.1281, 0.1135], ticksX_e, ticksY_e, 2, 2, [fPurple, fBlue, fGreen, fYellow]);
};
</script>
</body>
</html>
